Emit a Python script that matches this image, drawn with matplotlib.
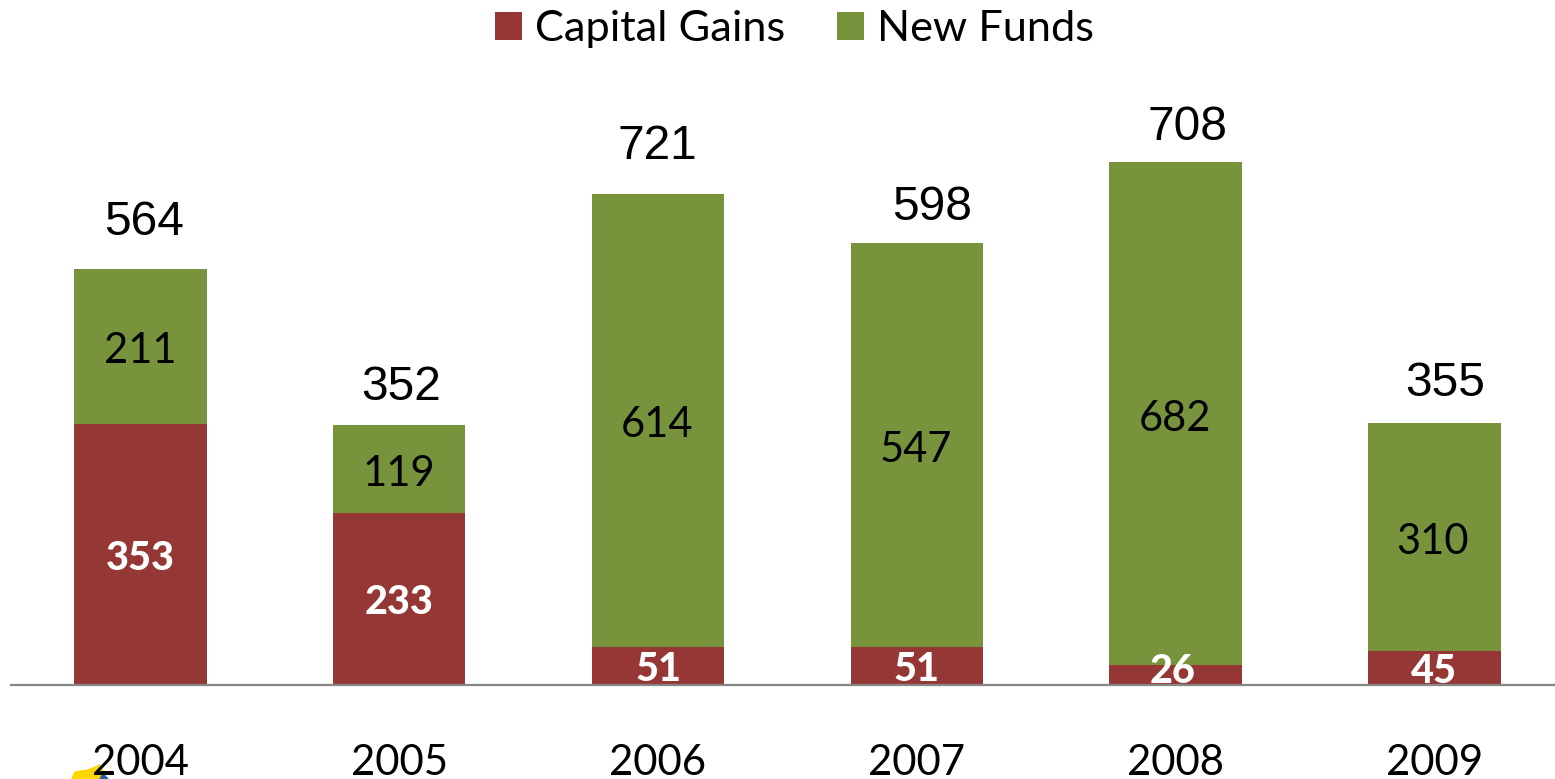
# Stacked bars of capital gains and new funds per year

import matplotlib
matplotlib.use('Agg')
import numpy as np
import matplotlib.pyplot as plt
from matplotlib.patches import Polygon

years = ['2004', '2005', '2006', '2007', '2008', '2009']
capital_gains = [353, 233, 51, 51, 26, 45]
new_funds = [211, 119, 614, 547, 682, 310]
totals = [564, 352, 721, 598, 708, 355]

# hand placed label offsets in pixels, the source chart moved these around
total_dx = [3.5, 2, -1, 15, 12, 11]
total_dy = [46, 37, 48, 36, 35, 39]
gain_dx = [0, 0, 0, 0, -3, 0]
gain_dy = [-4, -4, -4, -4, 3, -4]
new_dx = [0, 0, -1, -1, -1, -2]

RED = '#953735'
GREEN = '#77933C'
W, H = 1555, 779
PT = 72 / 100  # one pixel in points at dpi 100

fig = plt.figure(figsize=(W / 100, H / 100), dpi=100)
ax = fig.add_axes([11 / W, (H - 684.5) / H, (W - 11) / W, 624.5 / H])

x = np.arange(len(years))
bars_gain = ax.bar(x, capital_gains, width=0.512, color=RED, label='Capital Gains')
bars_new = ax.bar(x, new_funds, width=0.512, bottom=capital_gains, color=GREEN, label='New Funds')

ax.set_xlim(-0.5, 5.466)
ax.set_ylim(0, 624.5 / 0.7375)
ax.set_yticks([])
ax.set_xticks(x, years, fontfamily='Lato', fontsize=30.2)
ax.tick_params(axis='x', length=0, pad=43)
for side in ['top', 'left', 'right']:
    ax.spines[side].set_visible(False)
ax.spines['bottom'].set_color('#868686')
ax.spines['bottom'].set_linewidth(1.6)

for i in range(len(years)):
    gain = capital_gains[i]
    new = new_funds[i]
    ax.annotate(str(gain), (x[i], gain / 2), xytext=(gain_dx[i] * PT, gain_dy[i] * PT),
                textcoords='offset points', ha='center', va='center',
                color='white', fontfamily='Lato', fontweight='black', fontsize=28.5)
    ax.annotate(str(new), (x[i], gain + new / 2), xytext=(new_dx[i] * PT, -5 * PT),
                textcoords='offset points', ha='center', va='center',
                color='black', fontfamily='Lato', fontsize=30)
    ax.annotate(str(totals[i]), (x[i], gain + new), xytext=(total_dx[i] * PT, total_dy[i] * PT),
                textcoords='offset points', ha='center', va='center',
                color='black', fontfamily='Liberation Sans', fontsize=34.5)

fig.legend(handles=[bars_gain, bars_new], loc='center', ncol=2,
           bbox_to_anchor=(794.5 / W, 1 - 29 / H), frameon=False,
           prop={'family': 'Lato', 'size': 31.2}, borderpad=0, borderaxespad=0,
           handlelength=0.62, handleheight=0.62, handletextpad=0.3, columnspacing=1.2)

# bit of a logo cut off at the bottom left corner
logo_yellow = [(72, 779), (75, 772), (88, 770), (100, 765), (106, 779)]
logo_blue = [(100, 779), (103, 774), (108, 779)]
fig.add_artist(Polygon([(a / W, 1 - b / H) for a, b in logo_yellow], closed=True,
                       color='#FFD700', transform=fig.transFigure, zorder=0))
fig.add_artist(Polygon([(a / W, 1 - b / H) for a, b in logo_blue], closed=True,
                       color='#1F5FA8', transform=fig.transFigure, zorder=0))

fig.savefig('out.png', dpi=100)
